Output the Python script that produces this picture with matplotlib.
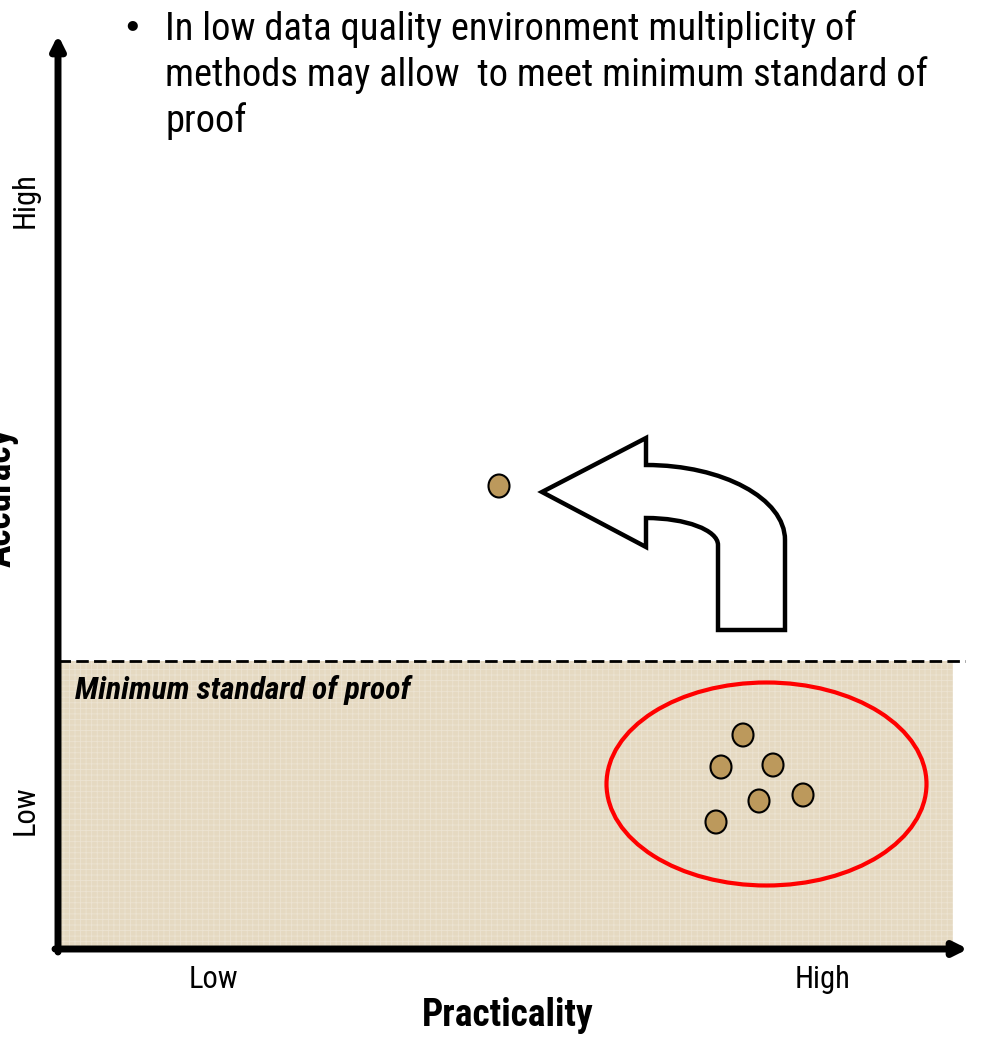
import matplotlib
matplotlib.use("Agg")
import matplotlib.pyplot as plt
from matplotlib.patches import Ellipse, Rectangle, PathPatch
from matplotlib.path import Path

# ---- data (one unit = one pixel, origin at the axes corner) ----
cluster_practicality = [685, 663, 715, 701, 745, 658]
cluster_accuracy = [214, 182, 184, 148, 154, 127]
single_practicality = [441]
single_accuracy = [463]
min_standard = 288
region_right = 895
x_tick_labels = ["Low", "High"]
x_tick_pos = [155, 765]
y_tick_labels = ["Low", "High"]
y_tick_pos = [139, 749]
bullet_lines = [
    "In low data quality environment multiplicity of",
    "methods may allow  to meet minimum standard of",
    "proof",
]

FAM = ["Roboto Condensed", "DejaVu Sans"]
plt.rcParams["hatch.linewidth"] = 0.6

W, H = 983, 1037
ox, oy = 58, 949  # origin in pixels
fig = plt.figure(figsize=(W / 100, H / 100), dpi=100)
ax = fig.add_axes([0, 0, 1, 1])
ax.set_xlim(-ox, W - ox)
ax.set_ylim(-(H - oy), oy)
ax.axis("off")

# shaded region below the minimum standard (fine woven texture)
ax.add_patch(Rectangle((0, 0), region_right, min_standard, facecolor="#e5d9c1",
                       edgecolor="#ece3d2", hatch="+++", lw=0, zorder=1))
ax.plot([0, 907], [min_standard, min_standard], color="black", lw=2,
        dashes=(4.5, 1.9), zorder=2)
ax.text(17, min_standard - 29, "Minimum standard of proof", family=FAM,
        fontsize=22.8, style="italic", weight="bold", ha="left", va="center", zorder=3)

# axes arrows
arrow_kw = dict(arrowstyle="-|>,head_length=0.8,head_width=0.4",
                lw=5, color="black", shrinkA=0, shrinkB=0)
ax.annotate("", xy=(0, 914), xytext=(0, -3), arrowprops=arrow_kw, zorder=5)
ax.annotate("", xy=(910, 0), xytext=(-3, 0), arrowprops=arrow_kw, zorder=5)

# tick labels
for lab, xp in zip(x_tick_labels, x_tick_pos):
    ax.text(xp, -31, lab, family=FAM, fontsize=22, ha="center", va="center")
for lab, yp in zip(y_tick_labels, y_tick_pos):
    ax.text(-33, yp, lab, family=FAM, fontsize=22, ha="center", va="center", rotation=90)

ax.text(450, -66, "Practicality", family=FAM, fontsize=27, weight="bold",
        ha="center", va="center")
ax.text(-39, 452, "Accuracy", family=FAM, fontsize=27, weight="bold",
        ha="right", va="center", rotation=90)

# bullet text
ax.text(74, oy - 25, "\u25CF", family=["DejaVu Sans"], fontsize=9.5,
        ha="center", va="center")
for i, line in enumerate(bullet_lines):
    ax.text(107, oy - 40 - 46 * i, line, family=FAM, fontsize=27.7,
            ha="left", va="baseline")

# curved arrow pointing back toward higher accuracy
tip = (484, 457)
hx = 588          # x of head base
head_top, head_bot = 511, 402
sh_top, sh_bot = 484, 431   # shaft top/bottom at the head
outer_x, inner_x = 727, 660
base_y = 319
k = 0.5523
o_rx, o_ry = outer_x - hx, 75
ocy = sh_top - o_ry
i_rx = inner_x - hx
i_ry = 27
icy = sh_bot - i_ry
verts = [
    tip, (hx, head_top), (hx, sh_top),
    (hx + k * o_rx, sh_top), (outer_x, ocy + k * o_ry), (outer_x, ocy),
    (outer_x, base_y), (inner_x, base_y), (inner_x, icy),
    (inner_x, icy + k * i_ry), (hx + k * i_rx, sh_bot), (hx, sh_bot),
    (hx, head_bot), tip,
]
codes = [Path.MOVETO, Path.LINETO, Path.LINETO,
         Path.CURVE4, Path.CURVE4, Path.CURVE4,
         Path.LINETO, Path.LINETO, Path.LINETO,
         Path.CURVE4, Path.CURVE4, Path.CURVE4,
         Path.LINETO, Path.CLOSEPOLY]
ax.add_patch(PathPatch(Path(verts, codes), facecolor="white", edgecolor="black",
                       lw=3.2, joinstyle="miter", zorder=4))

# methods
dot_kw = dict(width=21, height=23, facecolor="#bc995c", edgecolor="black", lw=1.5, zorder=6)
for xv, yv in zip(cluster_practicality + single_practicality,
                  cluster_accuracy + single_accuracy):
    ax.add_patch(Ellipse((xv, yv), **dot_kw))

# grouping ellipse around the cluster
ax.add_patch(Ellipse((708.5, 165), 320, 203, facecolor="none", edgecolor="#ff0000",
                     lw=3, zorder=5))

fig.savefig("out.png", dpi=100)
